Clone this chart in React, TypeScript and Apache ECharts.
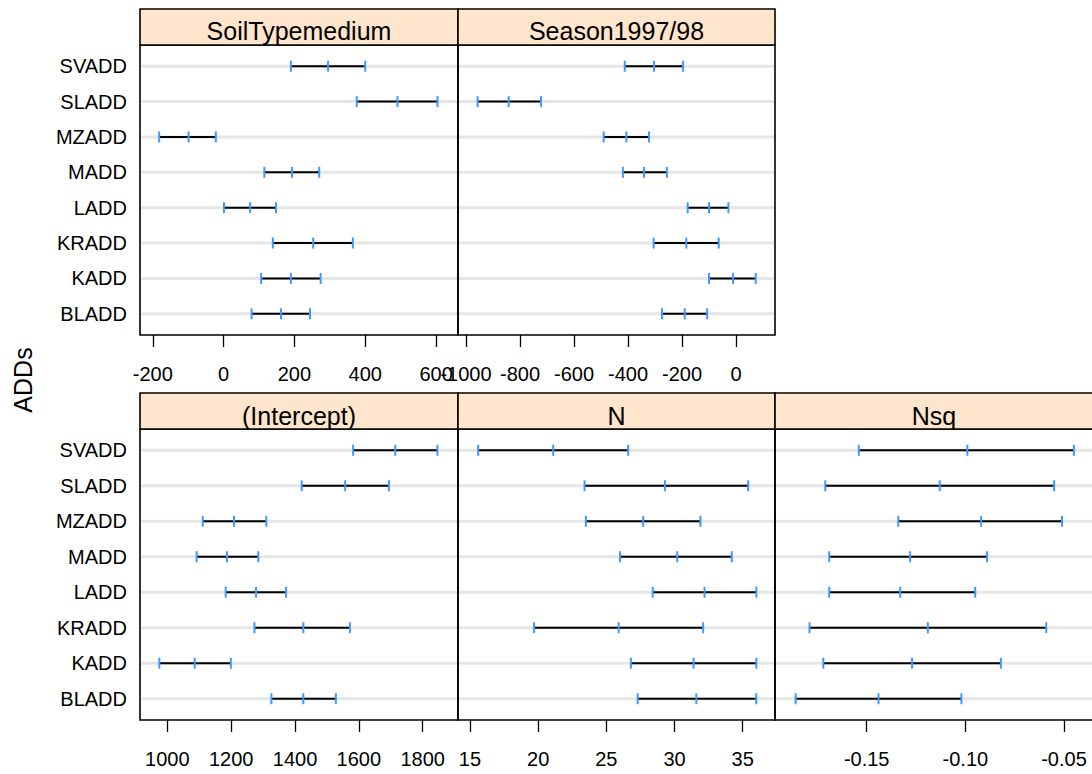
import { useEffect, useRef } from "react";
import * as echarts from "echarts";

// Rows, bottom to top
const rowNames = ["BLADD", "KADD", "KRADD", "LADD", "MADD", "MZADD", "SLADD", "SVADD"];

// 95% intervals per coefficient (lower, estimate, upper), same row order
const soilLower = [79, 106, 139, 1, 115, -182, 376, 190];
const soilEst = [162, 190, 253, 75, 193, -99, 491, 295];
const soilUpper = [244, 274, 365, 148, 270, -22, 604, 400];

const seasonLower = [-274, -100, -305, -179, -419, -490, -957, -412];
const seasonEst = [-190, -11, -184, -100, -341, -406, -842, -304];
const seasonUpper = [-107, 73, -64, -28, -256, -322, -722, -196];

const interceptLower = [1326, 975, 1273, 1183, 1092, 1111, 1421, 1582];
const interceptEst = [1426, 1086, 1426, 1278, 1187, 1209, 1557, 1714];
const interceptUpper = [1528, 1199, 1572, 1372, 1285, 1310, 1694, 1846];

const nLower = [27.3, 26.8, 19.7, 28.4, 26.0, 23.5, 23.4, 15.6];
const nEst = [31.6, 31.4, 25.9, 32.2, 30.2, 27.7, 29.3, 21.1];
const nUpper = [36.0, 36.0, 32.1, 36.0, 34.2, 31.9, 35.4, 26.6];

const nsqLower = [-0.186, -0.172, -0.179, -0.169, -0.169, -0.134, -0.171, -0.154];
const nsqEst = [-0.144, -0.127, -0.119, -0.133, -0.128, -0.092, -0.113, -0.099];
const nsqUpper = [-0.102, -0.082, -0.059, -0.095, -0.089, -0.051, -0.055, -0.045];

// Tick labels per panel
const soilTicks = [-200, 0, 200, 400, 600];
const seasonTicks = [-1000, -800, -600, -400, -200, 0];
const interceptTicks = [1000, 1200, 1400, 1600, 1800];
const nTicks = [15, 20, 25, 30, 35];
const nsqTicks = [-0.15, -0.1, -0.05];

const FONT = '"Liberation Sans", Arial, Helvetica, sans-serif';
const STRIP_FILL = "#ffe5cc";
const POINT_BLUE = "#3d9bff";

type Panel = {
  title: string;
  lower: number[];
  est: number[];
  upper: number[];
  ticks: number[];
  digits: number;
  min: number;
  max: number;
  left: number;
  right: number;
  stripTop: number;
  top: number;
  bottom: number;
  rowLabels: boolean;
};

const panels: Panel[] = [
  { title: "SoilTypemedium", lower: soilLower, est: soilEst, upper: soilUpper, ticks: soilTicks, digits: 0,
    min: -236.1, max: 661.9, left: 140, right: 458, stripTop: 9, top: 45, bottom: 335, rowLabels: true },
  { title: "Season1997/98", lower: seasonLower, est: seasonEst, upper: seasonUpper, ticks: seasonTicks, digits: 0,
    min: -1029.6, max: 144.4, left: 458, right: 775, stripTop: 9, top: 45, bottom: 335, rowLabels: false },
  { title: "(Intercept)", lower: interceptLower, est: interceptEst, upper: interceptUpper, ticks: interceptTicks, digits: 0,
    min: 914.5, max: 1910.5, left: 140, right: 458, stripTop: 393, top: 429, bottom: 720, rowLabels: true },
  { title: "N", lower: nLower, est: nEst, upper: nUpper, ticks: nTicks, digits: 0,
    min: 14.12, max: 37.37, left: 458, right: 775, stripTop: 393, top: 429, bottom: 720, rowLabels: false },
  { title: "Nsq", lower: nsqLower, est: nsqEst, upper: nsqUpper, ticks: nsqTicks, digits: 2,
    min: -0.19648, max: -0.0353, left: 775, right: 1093, stripTop: 393, top: 429, bottom: 720, rowLabels: false },
];

const rowValues = rowNames.map((_, i) => i + 1);

function renderInterval(params: any, api: any) {
  const row = api.value(0);
  const lo = api.coord([api.value(1), row]);
  const mid = api.coord([api.value(2), row]);
  const hi = api.coord([api.value(3), row]);
  const cs = params.coordSys;
  const y = lo[1];
  const half = 5.5;
  const tick = (p: number[]) => ({
    type: "line",
    shape: { x1: p[0], y1: y - half, x2: p[0], y2: y + half },
    style: { stroke: POINT_BLUE, lineWidth: 2 },
  });
  return {
    type: "group",
    children: [
      {
        type: "line",
        shape: { x1: cs.x + 1, y1: y, x2: cs.x + cs.width - 1, y2: y },
        style: { stroke: "#e6e6e6", lineWidth: 3 },
      },
      {
        type: "line",
        shape: { x1: lo[0], y1: y, x2: hi[0], y2: y },
        style: { stroke: "#000", lineWidth: 2 },
      },
      tick(lo),
      tick(mid),
      tick(hi),
    ],
  };
}

function buildOption() {
  const grid: any[] = [];
  const xAxis: any[] = [];
  const yAxis: any[] = [];
  const series: any[] = [];
  const graphic: any[] = [];

  panels.forEach((p, i) => {
    grid.push({
      left: p.left,
      top: p.top,
      width: p.right - p.left,
      height: p.bottom - p.top,
      show: true,
      borderColor: "#000",
      borderWidth: 1.6,
      backgroundColor: "transparent",
      containLabel: false,
      outerBoundsMode: "none",
    });
    xAxis.push({
      type: "value",
      gridIndex: i,
      min: p.min,
      max: p.max,
      axisLine: { show: false },
      splitLine: { show: false },
      axisTick: {
        show: true,
        inside: false,
        length: 12,
        customValues: p.ticks,
        lineStyle: { color: "#000", width: 1.3 },
      },
      axisLabel: {
        show: true,
        customValues: p.ticks,
        margin: 29,
        color: "#000",
        fontSize: 20,
        fontFamily: FONT,
        formatter: (v: number) => v.toFixed(p.digits),
      },
    });
    yAxis.push({
      type: "value",
      gridIndex: i,
      min: 0.4,
      max: 8.6,
      axisLine: { show: false },
      axisTick: { show: false },
      splitLine: { show: false },
      axisLabel: p.rowLabels
        ? {
            show: true,
            customValues: rowValues,
            margin: 13,
            color: "#000",
            fontSize: 20,
            fontFamily: FONT,
            formatter: (v: number) => rowNames[Math.round(v) - 1],
          }
        : { show: false },
    });
    series.push({
      type: "custom",
      xAxisIndex: i,
      yAxisIndex: i,
      renderItem: renderInterval,
      encode: { x: [1, 2, 3], y: 0 },
      data: rowNames.map((_, r) => [r + 1, p.lower[r], p.est[r], p.upper[r]]),
      clip: false,
    });
    graphic.push({
      type: "rect",
      shape: { x: p.left, y: p.stripTop, width: p.right - p.left, height: p.top - p.stripTop },
      style: { fill: STRIP_FILL, stroke: "#000", lineWidth: 1.6 },
      z: 10,
    });
    graphic.push({
      type: "text",
      x: (p.left + Math.min(p.right, 1092)) / 2 + (p.right > 1092 ? 0.5 : 0),
      y: p.stripTop + (p.top - p.stripTop) / 2 + (p.stripTop > 100 ? 5 : 4),
      style: {
        text: p.title,
        fill: "#000",
        fontSize: 25,
        fontFamily: FONT,
        align: "center",
        textAlign: "center",
        verticalAlign: "middle",
        textVerticalAlign: "middle",
      },
      z: 11,
    });
  });

  graphic.push({
    type: "text",
    x: 22.5,
    y: 380,
    rotation: Math.PI / 2,
    style: {
      text: "ADDs",
      fill: "#000",
      fontSize: 25,
      fontFamily: FONT,
      align: "center",
      textAlign: "center",
      verticalAlign: "middle",
      textVerticalAlign: "middle",
    },
  });

  return {
    animation: false,
    backgroundColor: "#fff",
    textStyle: { fontFamily: FONT },
    grid,
    xAxis,
    yAxis,
    series,
    graphic,
  };
}

export default function App() {
  const ref = useRef<HTMLDivElement>(null);
  useEffect(() => {
    if (!ref.current) return;
    const chart = echarts.init(ref.current, null, { renderer: "svg" });
    chart.setOption(buildOption() as any);
    return () => chart.dispose();
  }, []);
  return (
    <div
      ref={ref}
      style={{ position: "absolute", left: 0, top: 0, width: 1092, height: 774, background: "#fff" }}
    />
  );
}
